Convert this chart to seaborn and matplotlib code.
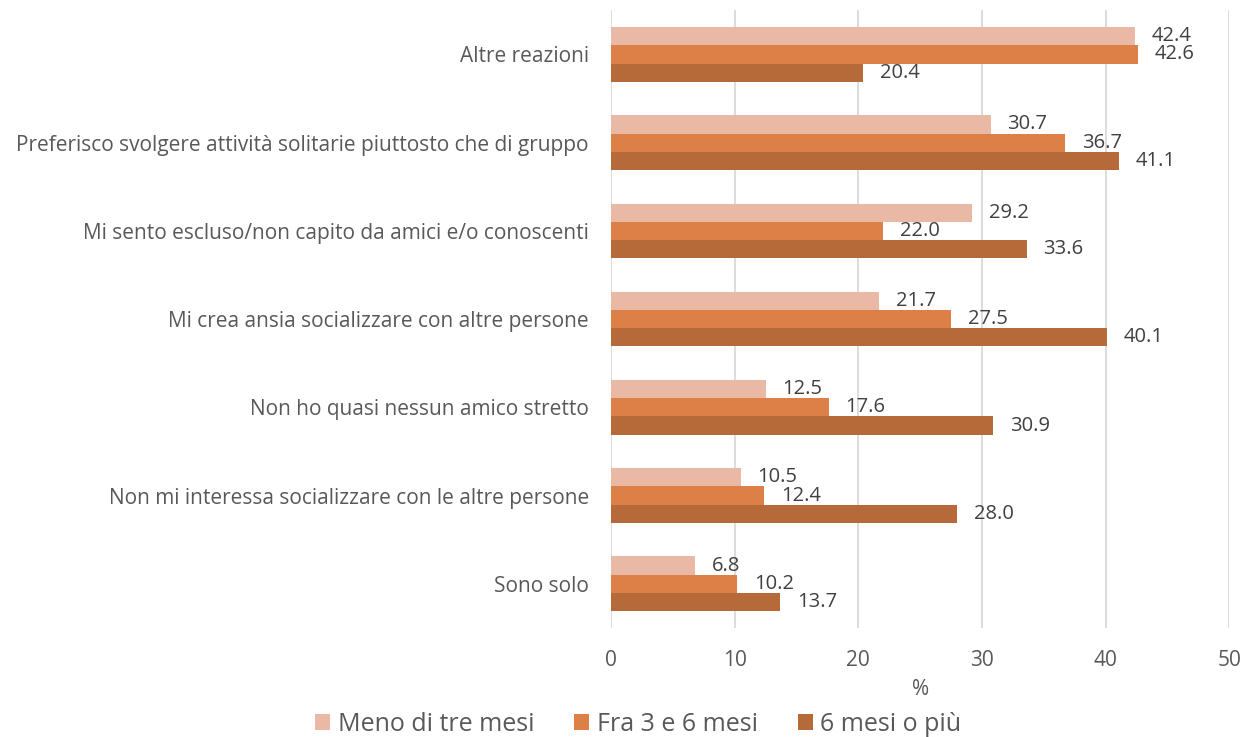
import pandas as pd
import seaborn as sns
import matplotlib.pyplot as plt

categories = [
    "Altre reazioni",
    "Preferisco svolgere attività solitarie piuttosto che di gruppo",
    "Mi sento escluso/non capito da amici e/o conoscenti",
    "Mi crea ansia socializzare con altre persone",
    "Non ho quasi nessun amico stretto",
    "Non mi interessa socializzare con le altre persone",
    "Sono solo",
]
series = ["Meno di tre mesi", "Fra 3 e 6 mesi", "6 mesi o più"]
meno_tre = [42.4, 30.7, 29.2, 21.7, 12.5, 10.5, 6.8]
fra_3_6 = [42.6, 36.7, 22.0, 27.5, 17.6, 12.4, 10.2]
sei_piu = [20.4, 41.1, 33.6, 40.1, 30.9, 28.0, 13.7]
colors = ["#E9B9A6", "#DD8048", "#B66A3A"]
text_col = "#595959"

rows = []
for s, vals in zip(series, [meno_tre, fra_3_6, sei_piu]):
    for c, v in zip(categories, vals):
        rows.append({"cat": c, "serie": s, "val": v})
df = pd.DataFrame(rows)

sns.set_style("white")
plt.rcParams["font.family"] = ["Open Sans", "DejaVu Sans"]

fig = plt.figure(figsize=(12.52, 7.37), dpi=100)
ax = fig.add_axes([0.488, 0.148, 0.494, 0.838])

sns.barplot(data=df, y="cat", x="val", hue="serie", order=categories,
            hue_order=series, palette=colors, orient="h", width=0.62,
            saturation=1, linewidth=0, ax=ax, legend=True)

for cont in ax.containers:
    ax.bar_label(cont, fmt="%.1f", padding=12, fontsize=14.5, color="#404040")

ax.set_xlim(0, 50)
ax.set_xticks(range(0, 51, 10))
ax.xaxis.grid(True, color="#D9D9D9", linewidth=1.3)
ax.set_axisbelow(True)
for sp in ax.spines.values():
    sp.set_visible(False)
ax.tick_params(axis="both", length=0, labelsize=15, colors=text_col)
ax.tick_params(axis="x", pad=16)
ax.tick_params(axis="y", pad=16)
ax.set_ylabel("")
ax.set_xlabel("%", fontsize=15, color=text_col, labelpad=6)

handles, labels = ax.get_legend_handles_labels()
ax.get_legend().remove()
fig.legend(handles, labels, loc="lower center", bbox_to_anchor=(0.51, -0.03),
           ncol=3, frameon=False, fontsize=18, labelcolor=text_col,
           handlelength=0.6, handleheight=0.6, handletextpad=0.3,
           columnspacing=1.6)

fig.savefig("out.png", dpi=100)
